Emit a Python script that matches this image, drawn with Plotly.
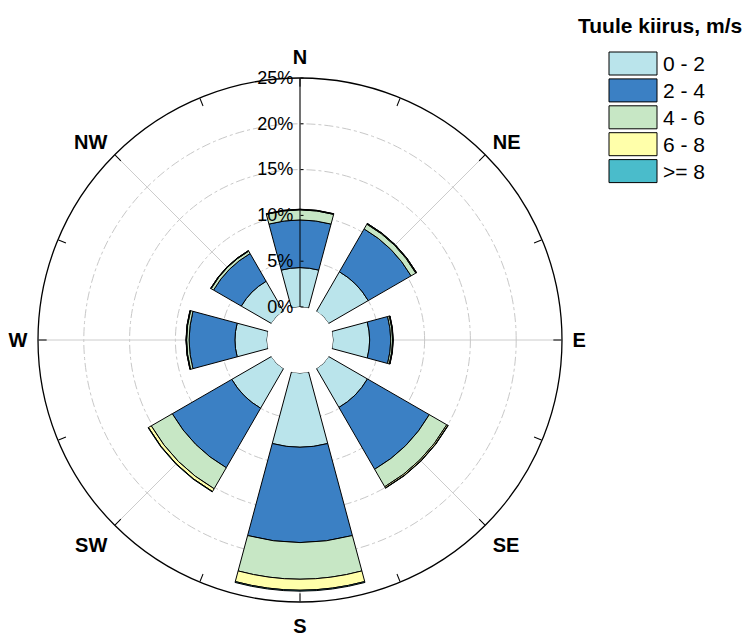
import plotly.graph_objects as go

# ---- data ----
directions = ["N", "NE", "E", "SE", "S", "SW", "W", "NW"]
dir_angles = [0, 45, 90, 135, 180, 225, 270, 315]
speed_labels = ["0 - 2", "2 - 4", "4 - 6", "6 - 8", ">= 8"]
freq_0_2 = [4.3, 5.0, 4.0, 4.9, 8.1, 5.0, 3.5, 3.8]
freq_2_4 = [5.2, 5.4, 2.3, 7.8, 10.4, 7.5, 5.0, 3.5]
freq_4_6 = [1.1, 0.6, 0.2, 2.2, 4.0, 2.65, 0.27, 0.3]
freq_6_8 = [0.05, 0.08, 0.05, 0.15, 1.2, 0.35, 0.05, 0.05]
freq_ge8 = [0.02, 0.02, 0.02, 0.03, 0.1, 0.05, 0.02, 0.02]
series = [freq_0_2, freq_2_4, freq_4_6, freq_6_8, freq_ge8]
colors = ["#bae4eb", "#3b80c4", "#c7e7c5", "#ffffaa", "#4abccb"]
radial_ticks = [0, 5, 10, 15, 20, 25]
legend_title = "Tuule kiirus, m/s"

# ---- figure ----
W, H = 752, 636
OFF = 8  # page body margin
FONT = "Liberation Sans, Arial, sans-serif"
fig = go.Figure()

base = [0.0] * len(directions)
for vals, lab, col in zip(series, speed_labels, colors):
    fig.add_trace(go.Barpolar(
        r=vals, theta=dir_angles, base=base, width=30, name=lab,
        marker=dict(color=col, line=dict(color="black", width=1)),
        showlegend=False, subplot="polar"))
    base = [b + v for b, v in zip(base, vals)]

# dummy trace so polar2 exists
fig.add_trace(go.Scatterpolar(r=[None], theta=[0], subplot="polar2",
                              showlegend=False, hoverinfo="skip"))

cx, cy, R = 300 - OFF, 340 - OFF, 262
dom_x = [(cx - R) / W, (cx + R) / W]
dom_y = [1 - (cy + R) / H, 1 - (cy - R) / H]
hole = 33 / R

common_angular = dict(direction="clockwise", rotation=90)
fig.update_layout(
    width=W, height=H, margin=dict(l=0, r=0, t=0, b=0),
    paper_bgcolor="white", plot_bgcolor="white",
    font=dict(family=FONT, color="black"),
    polar=dict(
        domain=dict(x=dom_x, y=dom_y), hole=hole, bgcolor="white",
        radialaxis=dict(range=[0, 25], tickvals=radial_ticks,
                        ticktext=[f"{v}%" for v in radial_ticks],
                        angle=90, tickangle=90, side="counterclockwise",
                        showline=True, linecolor="black", linewidth=1,
                        ticks="inside", ticklen=3, tickcolor="black",
                        showgrid=True, gridcolor="#c8c8c8", griddash="dashdot",
                        gridwidth=1, tickfont=dict(size=18, color="black")),
        angularaxis=dict(tickvals=dir_angles,
                         ticktext=[f"<b>{d}</b>" for d in directions],
                         showline=False,
                         showgrid=True, gridcolor="#cccccc", gridwidth=1,
                         ticks="outside", ticklen=6, tickcolor="rgba(0,0,0,0)",
                         tickfont=dict(size=20, color="black", family=FONT),
                         **common_angular),
    ),
    polar2=dict(
        domain=dict(x=dom_x, y=dom_y), hole=0, bgcolor="rgba(0,0,0,0)",
        radialaxis=dict(visible=False, range=[0, 25]),
        angularaxis=dict(tickvals=[i * 22.5 for i in range(16)],
                         showticklabels=False, showline=True,
                         linecolor="black", linewidth=1.3, showgrid=False,
                         ticks="inside", ticklen=8, tickcolor="black",
                         **common_angular),
    ),
)

# ---- custom legend ----
box_x0, box_x1 = 609 - OFF, 657 - OFF
box_y0, box_h, pitch = 52 - OFF, 23, 26.9
fig.add_annotation(text=f"<b>{legend_title}</b>", x=(576 - OFF) / W,
                   y=1 - (26 - OFF) / H,
                   xref="paper", yref="paper", xanchor="left", yanchor="middle",
                   showarrow=False, font=dict(size=21, family=FONT, color="black"))
for i, (lab, col) in enumerate(zip(speed_labels, colors)):
    y0 = box_y0 + i * pitch
    fig.add_shape(type="rect", xref="paper", yref="paper",
                  x0=box_x0 / W, x1=box_x1 / W,
                  y0=1 - (y0 + box_h) / H, y1=1 - y0 / H,
                  fillcolor=col, line=dict(color="black", width=1))
    fig.add_annotation(text=lab, x=(661 - OFF) / W, y=1 - (y0 + box_h / 2) / H,
                       xref="paper", yref="paper", xanchor="left", yanchor="middle",
                       showarrow=False, font=dict(size=21, family=FONT, color="black"))

fig.write_html("out.html")
